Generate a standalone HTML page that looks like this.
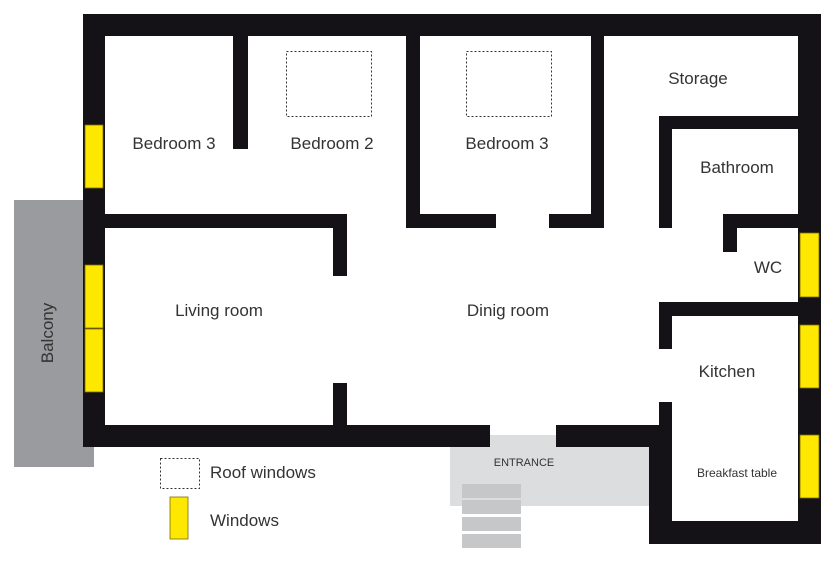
<!DOCTYPE html>
<html><head><meta charset="utf-8"><style>
html,body{margin:0;padding:0;background:#fff;}
svg text{font-family:"Liberation Sans",sans-serif;fill:#333;}
</style></head><body>
<svg width="835" height="562" viewBox="0 0 835 562" xmlns="http://www.w3.org/2000/svg">
<rect x="14" y="200" width="80" height="267" fill="#9a9b9e"/>
<rect x="450" y="435" width="199" height="71" fill="#dcdddf"/>
<g fill="#c6c7c9">
<rect x="462" y="484" width="59" height="14"/><rect x="462" y="500" width="59" height="14"/>
<rect x="462" y="517" width="59" height="14"/><rect x="462" y="534" width="59" height="14"/>
</g>
<g fill="#141216">
<rect x="83" y="14" width="738" height="22"/>
<rect x="83" y="14" width="22" height="433"/>
<rect x="798" y="14" width="23" height="530"/>
<rect x="83" y="425" width="407" height="22"/>
<rect x="556" y="425" width="116" height="22"/>
<rect x="649" y="425" width="23" height="119"/>
<rect x="649" y="521" width="172" height="23"/>
<rect x="659" y="402" width="13" height="30"/>
<rect x="659" y="302" width="13" height="47"/>
<rect x="659" y="302" width="145" height="14"/>
<rect x="233" y="30" width="15" height="119"/>
<rect x="406" y="30" width="14" height="198"/>
<rect x="105" y="214" width="242" height="14"/>
<rect x="333" y="214" width="14" height="62"/>
<rect x="333" y="383" width="14" height="45"/>
<rect x="406" y="214" width="90" height="14"/>
<rect x="549" y="214" width="55" height="14"/>
<rect x="591" y="30" width="13" height="198"/>
<rect x="659" y="116" width="145" height="13"/>
<rect x="659" y="116" width="13" height="112"/>
<rect x="723" y="214" width="80" height="14"/>
<rect x="723" y="214" width="14" height="38"/>
</g>
<g fill="#ffe800" stroke="#7a6c00" stroke-width="0.8">
<rect x="85" y="125" width="18" height="63"/>
<rect x="85" y="265" width="18" height="63"/>
<rect x="85" y="329" width="18" height="63"/>
<rect x="800" y="233" width="19" height="64"/>
<rect x="800" y="325" width="19" height="63"/>
<rect x="800" y="435" width="19" height="63"/>
<rect x="170" y="497" width="18" height="42"/>
</g>
<g fill="none" stroke="#333" stroke-width="1" stroke-dasharray="2,2">
<rect x="286.5" y="51.5" width="85" height="65"/>
<rect x="466.5" y="51.5" width="85" height="65"/>
<rect x="160.5" y="458.5" width="39" height="30"/>
</g>
<g font-size="17" text-anchor="middle">
<text x="174" y="149">Bedroom 3</text>
<text x="332" y="149">Bedroom 2</text>
<text x="507" y="149">Bedroom 3</text>
<text x="698" y="84">Storage</text>
<text x="737" y="173">Bathroom</text>
<text x="768" y="273">WC</text>
<text x="219" y="316">Living room</text>
<text x="508" y="316">Dinig room</text>
<text x="727" y="377">Kitchen</text>
</g>
<text x="737" y="477" font-size="12" text-anchor="middle">Breakfast table</text>
<text x="524" y="466" font-size="11" text-anchor="middle">ENTRANCE</text>
<text x="0" y="0" font-size="17" text-anchor="middle" transform="translate(53,333) rotate(-90)">Balcony</text>
<text x="210" y="478" font-size="17">Roof windows</text>
<text x="210" y="526" font-size="17">Windows</text>
</svg>
</body></html>
